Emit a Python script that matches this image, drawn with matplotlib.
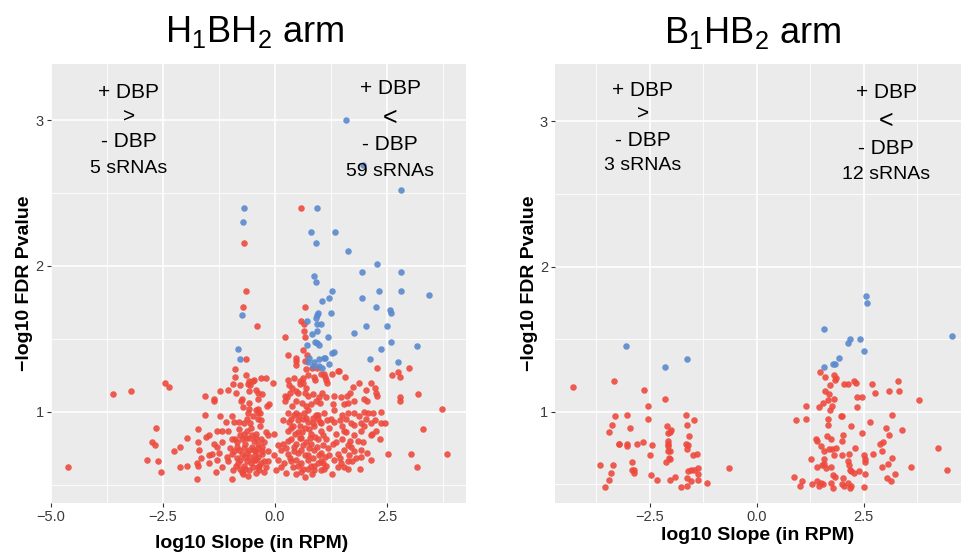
import matplotlib
matplotlib.use('Agg')
import matplotlib.pyplot as plt
from matplotlib.ticker import FuncFormatter

plt.rcParams['font.family'] = ['Liberation Sans', 'DejaVu Sans']
plt.rcParams['mathtext.fontset'] = 'custom'
plt.rcParams['mathtext.rm'] = 'Liberation Sans'

# ---------------- data (log10 slope, -log10 FDR p) ----------------
left_blue = [
    (1.59, 3.00), (2.82, 2.52), (-0.70, 2.40), (-0.71, 2.30), (0.94, 2.40), (0.80, 2.23), (1.33, 2.23),
    (0.91, 2.16), (1.63, 2.10), (2.28, 2.01), (1.95, 1.96), (2.82, 1.96), (0.87, 1.93), (0.91, 1.89),
    (1.27, 1.83), (2.32, 1.83), (2.81, 1.83), (3.43, 1.80), (1.21, 1.78), (1.95, 1.78), (1.06, 1.76),
    (1.97, 2.69), (-0.74, 1.66), (-0.83, 1.43), (-0.77, 1.36),
    (2.26, 1.72), (2.57, 1.70), (2.58, 1.68), (1.24, 1.68), (0.97, 1.68), (0.93, 1.66), (0.92, 1.64),
    (1.02, 1.60), (0.93, 1.60), (0.71, 1.62), (2.04, 1.59), (2.49, 1.59), (0.83, 1.53), (0.93, 1.55),
    (1.76, 1.54), (1.19, 1.51), (0.90, 1.48), (0.93, 1.47), (0.98, 1.46), (2.59, 1.48), (0.71, 1.46),
    (2.36, 1.43), (3.18, 1.45), (1.32, 1.41), (1.27, 1.40), (1.12, 1.37), (1.10, 1.37), (0.99, 1.36),
    (0.77, 1.37), (0.88, 1.34), (0.74, 1.34), (1.21, 1.33), (0.99, 1.31), (2.13, 1.36), (2.75, 1.34),
    (0.85, 1.31), (1.05, 1.30),
]

left_red = [
    (0.57, 2.40), (-0.69, 2.16), (-0.64, 1.83),
    (-0.71, 1.72), (-0.64, 1.36), (-0.89, 1.29), (-0.90, 1.24), (-0.64, 1.25), (-0.93, 1.19), (-0.78, 1.18),
    (-0.58, 1.21), (-0.49, 1.21), (-0.61, 1.19), (-0.55, 1.18), (-2.46, 1.20), (-2.37, 1.17), (-3.21, 1.14),
    (-3.62, 1.12), (-1.57, 1.11), (-1.22, 1.14), (-1.04, 1.15), (-0.88, 1.13), (-0.58, 1.14), (-0.39, 1.13),
    (-1.36, 1.09), (-0.73, 1.09),
    (0.66, 1.72), (-0.41, 1.59), (0.59, 1.62), (0.64, 1.60), (0.65, 1.55), (0.23, 1.51), (0.67, 1.51),
    (0.63, 1.42), (0.71, 1.39), (0.29, 1.39), (0.47, 1.37), (0.47, 1.35), (0.48, 1.32), (0.66, 1.35),
    (0.83, 1.30), (0.70, 1.29), (0.93, 1.30), (1.09, 1.26), (1.02, 1.26), (1.11, 1.24), (1.14, 1.22),
    (1.17, 1.20), (1.27, 1.26), (1.40, 1.28), (1.44, 1.28), (1.56, 1.24), (2.28, 1.30), (3.00, 1.30),
    (2.62, 1.25), (2.74, 1.27), (2.78, 1.24), (0.63, 1.23), (0.55, 1.21), (0.62, 1.20), (0.43, 1.23),
    (0.29, 1.22), (-0.04, 1.20), (-0.20, 1.23), (-0.31, 1.23), (-0.46, 1.22), (0.86, 1.24), (0.90, 1.22),
    (0.73, 1.25), (0.69, 1.16), (0.55, 1.19), (0.39, 1.16), (0.31, 1.18), (0.47, 1.14), (0.34, 1.13),
    (0.51, 1.13), (0.66, 1.13), (0.74, 1.11), (0.85, 1.12), (1.04, 1.13), (0.98, 1.10), (1.13, 1.10),
    (1.32, 1.11), (1.47, 1.10), (1.61, 1.11), (1.67, 1.13), (1.74, 1.17), (1.88, 1.20), (2.14, 1.20),
    (2.03, 1.15), (2.23, 1.16), (2.26, 1.13), (2.27, 1.11), (1.99, 1.09), (2.79, 1.10), (3.20, 1.12),
    (-0.28, 1.12), (-0.42, 1.15), (0.23, 1.11), (0.27, 1.10), (-0.39, 1.09),
    # lower left
    (-1.36, 1.07), (-0.75, 1.07), (-0.58, 1.06), (-0.71, 1.03), (-0.57, 1.02), (-0.43, 1.01), (-0.60, 0.99),
    (-1.56, 0.98), (-1.23, 0.97), (-0.95, 0.97), (-2.66, 0.89), (-1.72, 0.88), (-1.96, 0.82), (-1.55, 0.83),
    (-1.47, 0.84), (-1.29, 0.87), (-1.18, 0.87), (-1.04, 0.87), (-1.10, 0.93), (-0.91, 0.93), (-0.81, 0.93),
    (-0.69, 0.92), (-0.55, 0.92), (-0.62, 0.95), (-0.49, 0.97), (-0.39, 0.99), (-2.74, 0.79), (-2.68, 0.77),
    (-2.13, 0.76), (-2.25, 0.73), (-1.72, 0.79), (-1.70, 0.74), (-1.35, 0.78), (-1.29, 0.76), (-1.18, 0.79),
    (-1.24, 0.72), (-1.40, 0.71), (-1.47, 0.70), (-1.66, 0.68), (-0.97, 0.81), (-0.89, 0.81), (-0.84, 0.79),
    (-0.77, 0.84), (-0.69, 0.85), (-0.62, 0.87), (-0.54, 0.89), (-0.73, 0.81), (-0.66, 0.78), (-0.58, 0.82),
    (-0.51, 0.84), (-0.43, 0.85), (-0.92, 0.73), (-0.95, 0.71), (-0.80, 0.74), (-0.73, 0.71), (-0.66, 0.69),
    (-0.58, 0.74), (-0.51, 0.76), (-0.43, 0.73), (-0.39, 0.78), (-2.86, 0.67), (-2.60, 0.66), (-2.55, 0.59),
    (-2.12, 0.62), (-1.97, 0.63), (-1.73, 0.65), (-1.72, 0.63), (-1.47, 0.65), (-1.30, 0.67), (-1.08, 0.69),
    (-1.19, 0.62), (-1.32, 0.59), (-0.94, 0.60), (-0.82, 0.65), (-0.77, 0.67), (-0.69, 0.63), (-0.62, 0.66),
    (-0.54, 0.65), (-0.47, 0.67), (-0.39, 0.62), (-0.73, 0.59), (-0.66, 0.61), (-0.58, 0.60), (-1.73, 0.54),
    (-0.97, 0.54), (-0.71, 0.57), (-4.61, 0.62),
    (-0.45, 0.70), (-0.38, 0.69), (-0.30, 0.73), (-0.25, 0.66), (-0.20, 0.62), (-0.35, 0.63), (-0.42, 0.58),
    (-0.28, 0.76), (-0.85, 0.68), (-0.88, 0.63), (-0.78, 0.61), (-0.62, 0.72), (-0.70, 0.75), (-0.85, 0.76),
    (-0.55, 0.69), (-0.50, 0.62), (-0.47, 0.80), (-0.65, 0.82), (-0.80, 0.88), (-1.00, 0.75), (-1.05, 0.66),
    (-0.60, 0.56),
    # lower right
    (-0.18, 1.04), (-0.13, 1.05), (0.22, 1.07), (0.37, 1.04), (0.47, 1.07), (0.60, 1.06), (0.69, 1.04),
    (0.80, 1.05), (0.92, 1.07), (1.00, 1.06), (1.30, 1.05), (1.55, 1.05), (1.64, 1.06), (1.77, 1.07),
    (2.05, 1.07), (2.78, 1.07), (-0.39, 1.02), (-0.33, 0.99), (0.28, 0.99), (0.42, 0.98), (0.47, 0.99),
    (0.54, 0.98), (0.64, 0.99), (0.73, 1.01), (0.92, 0.98), (0.97, 0.98), (1.10, 0.99), (1.32, 1.01),
    (1.49, 0.98), (1.62, 0.99), (1.77, 0.99), (1.99, 1.00), (2.07, 0.99), (2.18, 0.99), (2.37, 1.00),
    (1.88, 0.97), (3.73, 1.02), (-0.39, 0.95), (-0.31, 0.94), (0.17, 0.94), (0.32, 0.93), (0.51, 0.94),
    (0.62, 0.95), (0.73, 0.93), (0.84, 0.92), (0.95, 0.95), (1.03, 0.92), (1.16, 0.94), (1.32, 0.93),
    (1.46, 0.94), (1.59, 0.95), (1.70, 0.92), (1.92, 0.92), (2.03, 0.95), (2.14, 0.92), (2.23, 0.94),
    (2.37, 0.92), (2.46, 0.92), (1.77, 0.91), (-0.34, 0.90), (-0.19, 0.86), (-0.16, 0.84), (-0.02, 0.85),
    (0.28, 0.87), (0.36, 0.89), (0.51, 0.86), (0.66, 0.89), (0.80, 0.85), (0.88, 0.90), (1.03, 0.87),
    (1.21, 0.89), (1.36, 0.85), (1.53, 0.87), (1.59, 0.86), (1.77, 0.84), (1.91, 0.87), (1.99, 0.90),
    (2.14, 0.84), (2.17, 0.85), (3.30, 0.88), (-0.42, 0.82), (-0.31, 0.81), (-0.24, 0.79), (0.06, 0.77),
    (0.17, 0.78), (0.36, 0.81), (0.47, 0.78), (0.58, 0.82), (0.69, 0.79), (0.80, 0.78), (0.95, 0.81),
    (1.14, 0.81), (1.29, 0.78), (1.36, 0.79), (1.49, 0.81), (1.62, 0.77), (1.70, 0.76), (1.96, 0.79),
    (2.34, 0.81), (-0.46, 0.74), (-0.37, 0.75), (-0.28, 0.71), (-0.16, 0.73), (-0.02, 0.70), (0.13, 0.74),
    (0.28, 0.71), (0.43, 0.73), (0.58, 0.74), (0.73, 0.70), (0.88, 0.74), (1.03, 0.72), (1.18, 0.75),
    (1.40, 0.71), (1.55, 0.74), (1.66, 0.70), (1.77, 0.73), (1.92, 0.74), (2.14, 0.67), (2.52, 0.71),
    (3.04, 0.71), (3.84, 0.71), (-0.42, 0.67), (-0.31, 0.65), (-0.16, 0.66), (0.06, 0.67), (0.21, 0.65),
    (0.36, 0.66), (0.47, 0.67), (0.58, 0.65), (0.73, 0.67), (0.88, 0.63), (1.03, 0.66), (1.14, 0.63),
    (1.32, 0.67), (1.47, 0.65), (1.62, 0.66), (1.73, 0.66), (1.92, 0.69), (3.16, 0.62), (-0.35, 0.60),
    (-0.24, 0.59), (0.02, 0.60), (0.13, 0.62), (0.25, 0.58), (0.47, 0.57), (0.58, 0.59), (0.73, 0.61),
    (0.88, 0.60), (1.03, 0.60), (1.10, 0.61), (1.27, 0.57), (1.40, 0.62), (1.62, 0.61), (1.89, 0.61),
    (0.35, 0.95), (0.40, 0.90), (0.45, 0.85), (0.55, 0.90), (0.60, 0.86), (0.70, 0.96), (0.75, 0.88),
    (0.85, 0.96), (0.90, 0.83), (1.00, 0.93), (1.08, 0.84), (0.42, 0.76), (0.52, 0.72), (0.62, 0.77),
    (0.66, 0.70), (0.77, 0.75), (0.84, 0.68), (0.93, 0.76), (0.98, 0.70), (1.08, 0.77), (1.12, 0.69),
    (0.33, 0.68), (0.40, 0.62), (0.52, 0.63), (0.63, 0.61), (0.67, 0.55), (0.80, 0.63), (0.83, 0.57),
    (0.95, 0.65), (1.08, 0.65), (0.55, 0.82), (0.78, 0.82), (0.30, 0.80), (1.20, 0.70), (0.25, 0.75),
    (1.45, 0.68), (1.55, 0.62), (1.68, 0.80), (1.80, 0.68), (1.50, 0.90), (1.25, 0.95), (1.85, 0.80),
    (2.05, 0.72), (2.25, 0.87),
]

right_blue = [
    (-3.06, 1.45), (-2.13, 1.31), (-1.63, 1.36),
    (2.56, 1.80), (2.57, 1.75), (1.57, 1.57), (4.55, 1.52), (2.18, 1.50), (2.12, 1.47), (2.41, 1.50),
    (2.51, 1.42), (1.91, 1.37), (1.77, 1.33), (1.83, 1.33), (1.57, 1.31),
]

right_red = [
    (-4.30, 1.17), (-3.34, 1.21), (-2.64, 1.15), (-2.13, 1.09), (-2.54, 1.04), (-3.31, 0.97), (-3.04, 0.98),
    (-1.64, 0.98), (-2.54, 0.95), (-1.46, 0.94), (-3.38, 0.91), (-2.09, 0.90), (-2.95, 0.89), (-1.99, 0.87),
    (-1.62, 0.91), (-3.44, 0.86), (-2.02, 0.86), (-2.08, 0.85), (-1.59, 0.83), (-2.07, 0.80), (-3.22, 0.78),
    (-3.02, 0.78), (-2.79, 0.78), (-2.66, 0.79), (-2.44, 0.77), (-2.08, 0.78), (-1.64, 0.78), (-1.60, 0.77),
    (-3.04, 0.76), (-3.21, 0.78), (-2.07, 0.76), (-1.63, 0.74), (-2.07, 0.73), (-2.02, 0.73), (-1.39, 0.71),
    (-1.48, 0.70), (-2.49, 0.70), (-2.05, 0.68), (-2.11, 0.65), (-2.02, 0.67), (-2.92, 0.65), (-3.66, 0.63),
    (-3.35, 0.63), (-3.40, 0.58), (-2.91, 0.60), (-2.86, 0.60), (-2.86, 0.58), (-2.48, 0.56), (-2.34, 0.53),
    (-2.02, 0.53), (-1.91, 0.55), (-1.61, 0.59), (-1.53, 0.60), (-1.47, 0.60), (-1.38, 0.61), (-1.36, 0.57),
    (-1.36, 0.53), (-1.54, 0.52), (-1.63, 0.54), (-0.65, 0.61), (-1.16, 0.51), (-3.45, 0.53), (-3.55, 0.48),
    (-1.76, 0.48), (-1.63, 0.49),
    (1.48, 1.27), (1.59, 1.24), (1.80, 1.25), (1.82, 1.22), (1.85, 1.23), (2.26, 1.21), (2.32, 1.20),
    (2.04, 1.19), (2.12, 1.19), (1.71, 1.18), (2.70, 1.19), (3.30, 1.21), (3.33, 1.14), (3.08, 1.14),
    (2.76, 1.13), (1.60, 1.14), (1.68, 1.12), (1.80, 1.09), (2.33, 1.10), (2.47, 1.10), (1.66, 1.08),
    (1.54, 1.06), (1.76, 1.04), (1.45, 1.03), (2.33, 1.03), (1.70, 1.01), (1.14, 1.04), (3.80, 1.08),
    (0.92, 0.94), (1.14, 0.95), (1.66, 0.95), (1.96, 0.97), (1.98, 0.97), (3.15, 0.98), (1.66, 0.91),
    (2.19, 0.90), (2.64, 0.93), (3.03, 0.89), (3.40, 0.87), (3.10, 0.84), (2.45, 0.85), (2.02, 0.84),
    (1.63, 0.83), (1.74, 0.81), (1.38, 0.81), (1.40, 0.80), (2.00, 0.80), (2.88, 0.78), (2.95, 0.79),
    (4.23, 0.75), (2.30, 0.75), (1.51, 0.76), (1.57, 0.73), (1.68, 0.74), (1.76, 0.74), (1.86, 0.75),
    (1.80, 0.70), (1.98, 0.70), (2.16, 0.71), (2.51, 0.70), (2.72, 0.71), (2.92, 0.73), (3.17, 0.68),
    (2.52, 0.67), (2.52, 0.65), (1.27, 0.67), (1.57, 0.67), (1.56, 0.64), (1.53, 0.63), (1.73, 0.62),
    (1.61, 0.61), (1.41, 0.62), (2.14, 0.66), (2.16, 0.63), (2.17, 0.60), (2.27, 0.58), (2.21, 0.59),
    (2.39, 0.59), (2.52, 0.57), (2.92, 0.62), (3.07, 0.64), (3.60, 0.62), (4.44, 0.60), (3.23, 0.57),
    (3.05, 0.54), (3.14, 0.52), (0.87, 0.55), (1.05, 0.52), (1.01, 0.49), (1.29, 0.50), (1.41, 0.52),
    (1.45, 0.49), (1.51, 0.51), (1.54, 0.50), (1.73, 0.51), (1.78, 0.56), (1.83, 0.55), (1.77, 0.47),
    (2.01, 0.54), (1.98, 0.50), (2.03, 0.49), (2.14, 0.51), (2.19, 0.49), (2.18, 0.47), (2.50, 0.48),
]

titles = [r'H$\mathregular{_1}$BH$\mathregular{_2}$ arm', r'B$\mathregular{_1}$HB$\mathregular{_2}$ arm']
x_label = 'log10 Slope (in RPM)'
y_label = '\u2212log10 FDR Pvalue'
left_notes = [('+ DBP', '>', '- DBP', '5 sRNAs'), ('+ DBP', '<', '- DBP', '59 sRNAs')]
right_notes = [('+ DBP', '>', '- DBP', '3 sRNAs'), ('+ DBP', '<', '- DBP', '12 sRNAs')]

RED = '#EE4A3E'
BLUE = '#5A8ACE'

W, H = 961, 553
fig = plt.figure(figsize=(W / 100, H / 100), dpi=100)


def fx(x):
    return x / W


def fy(y):
    return 1 - y / H


def make_ax(x0, x1, y0, y1, xlim, ylim, xt, xminor):
    ax = fig.add_axes([fx(x0), fy(y1), fx(x1 - x0), (y1 - y0) / H])
    ax.set_facecolor('#EBEBEB')
    for s in ax.spines.values():
        s.set_visible(False)
    ax.set_xlim(*xlim)
    ax.set_ylim(*ylim)
    ax.set_xticks(xt)
    ax.set_xticks(xminor, minor=True)
    ax.set_yticks([1, 2, 3])
    ax.set_yticks([0.5, 1.5, 2.5], minor=True)
    ax.xaxis.set_major_formatter(FuncFormatter(lambda v, p: f'{v:.1f}'.replace('-', '\u2212')))
    ax.yaxis.set_major_formatter(FuncFormatter(lambda v, p: f'{v:.0f}'))
    ax.grid(which='major', color='white', lw=1.2)
    ax.grid(which='minor', color='white', lw=0.6)
    ax.set_axisbelow(True)
    ax.tick_params(which='major', length=3, width=0.8, color='#333333',
                   labelcolor='#3A3A3A', labelsize=10.5, pad=2)
    ax.tick_params(which='minor', length=0)
    return ax


def draw(ax, red, blue):
    rx, ry = zip(*red)
    bx, by = zip(*blue)
    ax.scatter(rx, ry, s=22, color=RED, alpha=0.9, lw=0, zorder=3)
    ax.scatter(bx, by, s=22, color=BLUE, alpha=0.9, lw=0, zorder=3)


axL = make_ax(50.5, 466.3, 64, 503.3, (-5.01, 4.27), (0.372, 3.384),
              [-5, -2.5, 0, 2.5], [-3.75, -1.25, 1.25, 3.75])
draw(axL, left_red, left_blue)
axR = make_ax(555, 961, 64.3, 503, (-4.71, 4.77), (0.37, 3.394),
              [-2.5, 0, 2.5], [-3.75, -1.25, 1.25, 3.75])
draw(axR, right_red, right_blue)

# titles
fig.text(fx(255), fy(42), titles[0], ha='center', va='baseline', fontsize=26)
fig.text(fx(753), fy(43), titles[1], ha='center', va='baseline', fontsize=26)

# axis labels
fig.text(fx(252), fy(543), x_label, ha='center', va='center', fontsize=14, fontweight='bold')
fig.text(fx(758), fy(536), x_label, ha='center', va='center', fontsize=14, fontweight='bold')
fig.text(fx(25), fy(283), y_label, ha='center', va='center', rotation=90, fontsize=14, fontweight='bold')
fig.text(fx(530), fy(283), y_label, ha='center', va='center', rotation=90, fontsize=14, fontweight='bold')


def notes(lines, xc, ys, sign_size):
    sizes = [15, sign_size, 15, 14]
    for t, y, s in zip(lines, ys, sizes):
        fig.text(fx(xc), fy(y), t, ha='center', va='center', fontsize=s)


notes(left_notes[0], 129, [93, 117, 141.5, 168], 15)
notes(left_notes[1], 390, [88, 117.5, 144.5, 171.5], 18)
notes(right_notes[0], 643, [91, 114, 140, 165.5], 15)
notes(right_notes[1], 886, [92.5, 121, 148.5, 174.5], 18)

fig.savefig('out.png', dpi=100, facecolor='white')
